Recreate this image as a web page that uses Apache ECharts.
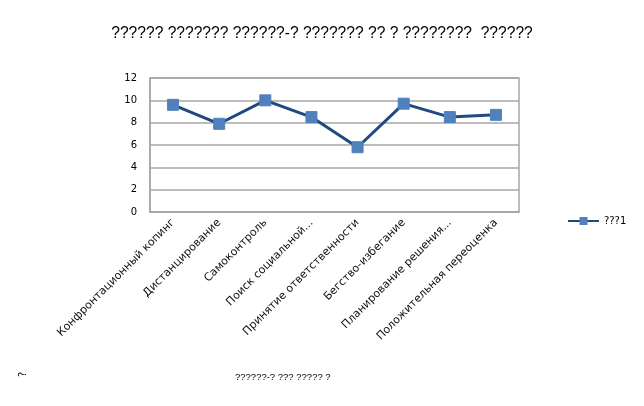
<!DOCTYPE html>
<html><head><meta charset="utf-8">
<script src="https://cdn.jsdelivr.net/npm/echarts@6/dist/echarts.min.js"></script>
<style>html,body{margin:0;padding:0;background:#fff}#c{width:644px;height:406px}</style>
</head><body><div id="c"></div>
<script>
const titleText = "?????? ??????? ??????-? ??????? ?? ? ????????  ??????";
const xAxisTitle = "??????-? ??? ????? ?";
const yAxisTitle = "?";
const seriesName = "???1";
const categories = ["Конфронтационный копинг","Дистанцирование","Самоконтроль","Поиск социальной...","Принятие ответственности","Бегство-избегание","Планирование решения...","Положительная переоценка"];
const values = [9.6, 7.9, 10, 8.5, 5.8, 9.7, 8.5, 8.7];
const yTicks = [0, 2, 4, 6, 8, 10, 12];

const chart = echarts.init(document.getElementById('c'), null, {renderer:'canvas'});
const F = "DejaVu Sans";
const FL = "Liberation Sans";
chart.setOption({
  animation:false,
  backgroundColor:'#fff',
  title:{text:titleText,left:'center',top:21,textStyle:{fontFamily:FL,fontSize:15.6,fontWeight:'normal',color:'#000'}},
  legend:{data:[{name:seriesName}],left:562,top:211,itemWidth:31,itemHeight:10,itemGap:4,
    textStyle:{fontFamily:F,fontSize:10,color:'#000'}},
  grid:{left:150,right:125,top:78,bottom:194,show:true,borderColor:'#A6A6A6',borderWidth:1.5},
  xAxis:{type:'category',data:categories,boundaryGap:true,
    axisLine:{lineStyle:{color:'#A6A6A6',width:1.5}},axisTick:{show:false},
    axisLabel:{interval:0,rotate:45,fontFamily:F,fontSize:11,color:'#111',margin:9}},
  yAxis:{type:'value',min:yTicks[0],max:yTicks[yTicks.length-1],interval:2,
    axisLine:{show:true,lineStyle:{color:'#A6A6A6',width:1.5}},axisTick:{show:false},
    splitLine:{lineStyle:{color:'#A6A6A6',width:1.5}},
    axisLabel:{fontFamily:F,fontSize:10,color:'#000',margin:13}},
  series:[{name:seriesName,type:'line',data:values,symbol:'rect',symbolSize:11,
    lineStyle:{color:'#1F4A80',width:3},itemStyle:{color:'#4F81BD',borderColor:'#4F81BD'}}],
  graphic:[
    {type:'text',left:235,top:372,style:{text:xAxisTitle,fontFamily:FL,fontSize:9.5,fill:'#000'}},
    {type:'text',x:18,y:377,rotation:Math.PI/2,style:{text:yAxisTitle,fontFamily:F,fontSize:10,fill:'#000'}}
  ]
});
</script></body></html>
